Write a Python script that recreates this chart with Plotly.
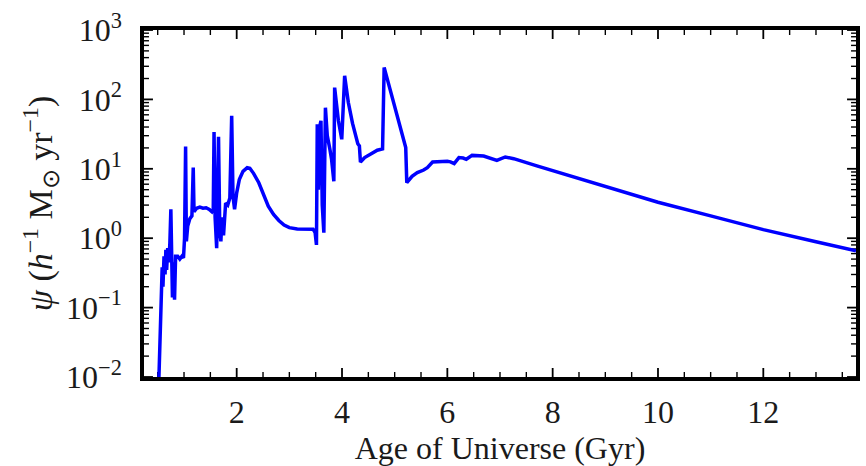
import plotly.graph_objects as go

# Star formation history: age of the universe (Gyr) vs. star formation rate
age_gyr = [
    0.52, 0.55, 0.57, 0.585, 0.60, 0.62, 0.64, 0.655, 0.67, 0.69, 0.71, 0.73,
    0.75, 0.765, 0.78, 0.80, 0.82, 0.84, 0.88, 0.92, 0.96, 0.99, 1.01, 1.03,
    1.045, 1.07, 1.11, 1.15, 1.175, 1.19, 1.24, 1.30, 1.36, 1.42, 1.48, 1.53,
    1.555, 1.57, 1.59, 1.62, 1.655, 1.68, 1.70, 1.72, 1.75, 1.79, 1.83, 1.87,
    1.885, 1.905, 1.93, 1.96, 2.00, 2.05, 2.12, 2.20, 2.25, 2.32, 2.42, 2.52,
    2.60, 2.70, 2.80, 2.90, 3.00, 3.15, 3.30, 3.45, 3.49, 3.515, 3.53, 3.55,
    3.575, 3.60, 3.625, 3.655, 3.685, 3.72, 3.77, 3.80, 3.845, 3.86, 3.93,
    3.995, 4.05, 4.12, 4.20, 4.30, 4.33, 4.35, 4.43, 4.55, 4.67, 4.77, 4.80,
    5.21, 5.23, 5.33, 5.43, 5.55, 5.62, 5.72, 5.85, 6.00, 6.06, 6.13, 6.22,
    6.30, 6.36, 6.47, 6.69, 6.85, 6.94, 7.10, 7.26, 7.70, 8.0, 9.0, 10.0,
    11.0, 12.0, 13.0, 13.76,
]
sfr = [
    0.008, 0.05, 0.14, 0.38, 0.20, 0.55, 0.30, 0.68, 0.35, 0.72, 0.45, 0.80,
    2.6, 0.5, 0.14, 0.45, 0.13, 0.55, 0.55, 0.50, 0.55, 0.52, 1.0, 21.0,
    0.9, 1.5, 1.9, 2.1, 10.4, 2.4, 2.7, 2.8, 2.7, 2.75, 2.6, 2.4,
    2.6, 34.0, 2.0, 0.72, 29.0, 1.2, 0.9, 2.0, 1.1, 3.2, 3.0, 3.8,
    13.0, 58.0, 4.0, 2.6, 4.5, 7.0, 9.2, 10.4, 10.2, 8.6, 6.3, 4.0,
    2.9, 2.2, 1.8, 1.55, 1.42, 1.36, 1.35, 1.35, 1.2, 0.8, 44.0, 5.0,
    40.0, 49.0, 3.0, 1.2, 76.0, 30.0, 19.0, 14.0, 6.6, 148.0, 50.0,
    26.6, 219.0, 90.0, 45.0, 23.0, 21.4, 12.5, 14.5, 16.5, 18.5, 19.3, 289.0,
    20.2, 6.3, 7.8, 8.8, 9.6, 10.4, 12.5, 12.8, 12.8, 12.6, 11.9, 14.5,
    14.3, 13.7, 15.6, 15.3, 13.8, 13.2, 14.8, 14.0, 11.0, 9.4, 5.6, 3.3,
    2.1, 1.33, 0.89, 0.66,
]

x_ticks = [2, 4, 6, 8, 10, 12]
x_minor = [k * 0.5 for k in range(1, 28) if (k * 0.5) not in x_ticks]
y_exponents = [-2, -1, 0, 1, 2, 3]
y_ticks = [10.0 ** e for e in y_exponents]
y_minor = [m * 10.0 ** e for e in y_exponents[:-1] for m in range(2, 10)]
y_ticktext = ["10<sup>%s</sup>" % str(e).replace("-", "\u2212") for e in y_exponents]

FONT = "Liberation Serif"
FS = 32

X_RANGE = [0.24, 13.76]
Y_LOG_RANGE = [-2, 3]
MARGIN = dict(l=144, r=6, t=30, b=89)
PLOT_W = 866 - MARGIN["l"] - MARGIN["r"]
PLOT_H = 466 - MARGIN["t"] - MARGIN["b"]


def x_tick_segments(vals, length_px):
    """Inward tick marks along the bottom and top edges of the frame."""
    f = length_px / PLOT_H * (Y_LOG_RANGE[1] - Y_LOG_RANGE[0])
    xs, ys = [], []
    for v in vals:
        xs += [v, v, None, v, v, None]
        ys += [10 ** Y_LOG_RANGE[0], 10 ** (Y_LOG_RANGE[0] + f), None,
               10 ** Y_LOG_RANGE[1], 10 ** (Y_LOG_RANGE[1] - f), None]
    return xs, ys


def y_tick_segments(vals, length_px):
    """Inward tick marks along the left and right edges of the frame."""
    g = length_px / PLOT_W * (X_RANGE[1] - X_RANGE[0])
    xs, ys = [], []
    for v in vals:
        xs += [X_RANGE[0], X_RANGE[0] + g, None, X_RANGE[1], X_RANGE[1] - g, None]
        ys += [v, v, None, v, v, None]
    return xs, ys


fig = go.Figure()

for (xs, ys), w in (
    (x_tick_segments(x_ticks, 9), 1.8),
    (x_tick_segments(x_minor, 5), 1.4),
    (y_tick_segments(y_ticks, 9), 1.8),
    (y_tick_segments(y_minor, 5), 1.4),
):
    fig.add_trace(go.Scatter(
        x=xs, y=ys, mode="lines", line=dict(color="black", width=w),
        hoverinfo="skip", showlegend=False,
    ))

fig.add_trace(go.Scatter(
    x=age_gyr, y=sfr, mode="lines",
    line=dict(color="#0000ff", width=3.5),
    showlegend=False,
))

fig.update_layout(
    width=866, height=466,
    margin=MARGIN,
    paper_bgcolor="white", plot_bgcolor="white",
    font=dict(family=FONT, size=FS, color="#1a1a1a"),
)

fig.update_xaxes(
    range=X_RANGE,
    tickmode="array", tickvals=x_ticks, ticks="",
    showline=True, linewidth=3.5, linecolor="black", mirror=True,
    showgrid=False, zeroline=False,
    tickfont=dict(size=FS, family=FONT), ticklabelstandoff=4,
    title=dict(text="Age of Universe (Gyr)", font=dict(size=FS, family=FONT), standoff=4),
)

fig.update_yaxes(
    type="log", range=Y_LOG_RANGE,
    tickmode="array", tickvals=y_ticks, ticktext=y_ticktext, ticks="",
    showline=True, linewidth=3.5, linecolor="black", mirror=True,
    showgrid=False, zeroline=False,
    tickfont=dict(size=FS, family=FONT), ticklabelstandoff=12,
    title=dict(
        text="<i>\u03c8</i> (<i>h</i><sup>\u22121</sup> M<sub>\u2299</sub> yr<sup>\u22121</sup>)",
        font=dict(size=34, family=FONT), standoff=4,
    ),
)

fig.write_html("out.html")
